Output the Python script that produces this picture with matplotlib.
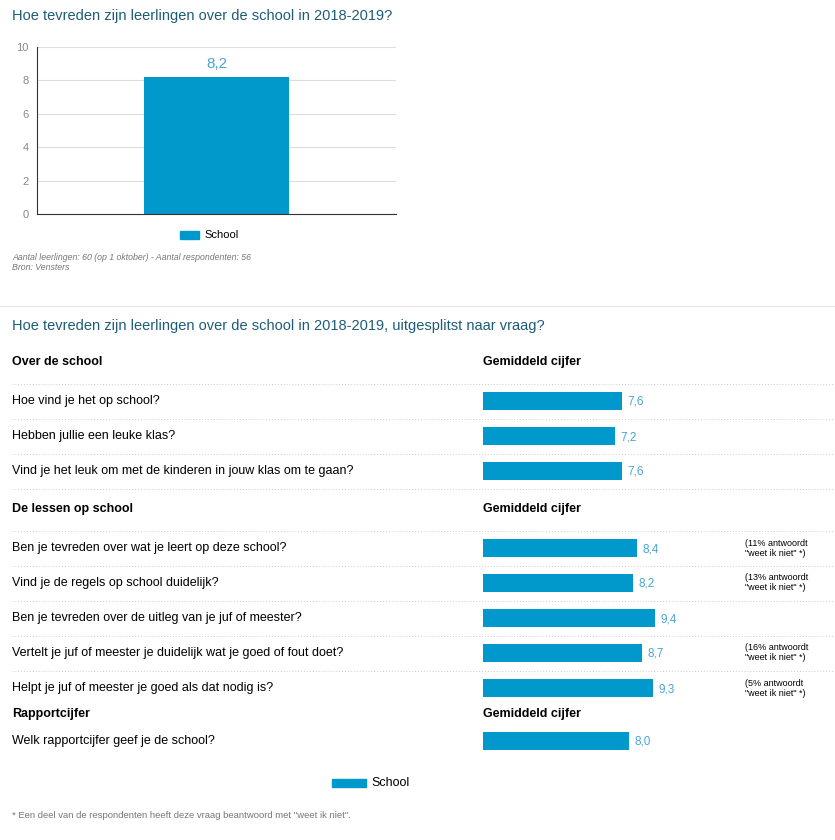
import matplotlib
matplotlib.use("Agg")
import matplotlib.pyplot as plt
from matplotlib.patches import Rectangle

W, H = 835, 840
BAR = "#0199cb"
VAL = "#4aa6d2"
TITLE = "#1d5c78"

overall_label = ["School"]
overall_value = [8.2]
y_ticks = [0, 2, 4, 6, 8, 10]

sections = ["Over de school", "De lessen op school", "Rapportcijfer"]
questions = [
    ["Hoe vind je het op school?", "Hebben jullie een leuke klas?",
     "Vind je het leuk om met de kinderen in jouw klas om te gaan?"],
    ["Ben je tevreden over wat je leert op deze school?", "Vind je de regels op school duidelijk?",
     "Ben je tevreden over de uitleg van je juf of meester?",
     "Vertelt je juf of meester je duidelijk wat je goed of fout doet?",
     "Helpt je juf of meester je goed als dat nodig is?"],
    ["Welk rapportcijfer geef je de school?"],
]
scores = [[7.6, 7.2, 7.6], [8.4, 8.2, 9.4, 8.7, 9.3], [8.0]]
notes = [[None, None, None], ["11%", "13%", None, "16%", "5%"], [None]]

fig = plt.figure(figsize=(W / 100, H / 100), dpi=100)
bg = fig.add_axes([0, 0, 1, 1])
bg.set_xlim(0, W); bg.set_ylim(H, 0); bg.axis("off")

def fx(x): return x / W
def fy(y): return 1 - y / H

# ---- top chart
bg.text(12, 16, "Hoe tevreden zijn leerlingen over de school in 2018-2019?", fontsize=10.5,
        color=TITLE, va="center", family="Liberation Sans")
ax = fig.add_axes([fx(37), fy(214), fx(396 - 37), (214 - 47) / H])
ax.bar([0], overall_value, width=0.404, color=BAR)
ax.set_xlim(-0.5, 0.5); ax.set_ylim(0, 10)
ax.set_yticks(y_ticks)
ax.set_yticklabels([str(t) for t in y_ticks], color="#888888", fontsize=8, family="Liberation Sans")
ax.tick_params(axis="y", length=0, pad=6)
ax.set_xticks([])
ax.grid(axis="y", color="#dddddd", lw=0.8); ax.set_axisbelow(True)
for s in ["top", "right"]: ax.spines[s].set_visible(False)
ax.spines["left"].set_color("#333333"); ax.spines["bottom"].set_color("#333333")
for v in overall_value:
    ax.text(0, v + 0.35, f"{v:.1f}".replace(".", ","), ha="center", va="bottom",
            color=VAL, fontsize=11, family="Liberation Sans")
bg.add_patch(Rectangle((180, 231), 19, 8, color=BAR))
bg.text(204, 235, overall_label[0], fontsize=8, va="center", family="Liberation Sans")
bg.text(12, 258, "Aantal leerlingen: 60 (op 1 oktober) - Aantal respondenten: 56", fontsize=6.3,
        color="#777777", style="italic", va="center", family="Liberation Sans")
bg.text(12, 268, "Bron: Vensters", fontsize=6.3, color="#777777", style="italic", va="center",
        family="Liberation Sans")
bg.plot([0, W], [306, 306], color="#e8e8e8", lw=1)

# ---- lower table
bg.text(12, 326, "Hoe tevreden zijn leerlingen over de school in 2018-2019, uitgesplitst naar vraag?",
        fontsize=10.5, color=TITLE, va="center", family="Liberation Sans")

header_y = [362, 509, 714]
row_y = [[401, 436, 471], [548, 583, 618, 653, 688], [741]]
bax = fig.add_axes([fx(483), fy(800), fx(666 - 483), (800 - 340) / H])
bax.set_xlim(0, 10); bax.set_ylim(800, 340); bax.axis("off")
for si, sec in enumerate(sections):
    hy = header_y[si]
    bg.text(12, hy, sec, fontsize=9, weight="bold", va="center", family="Liberation Sans")
    bg.text(483, hy, "Gemiddeld cijfer", fontsize=9, weight="bold", va="center", family="Liberation Sans")
    if si < 2:
        bg.plot([12, 833], [hy + 22, hy + 22], color="#cccccc", lw=0.7, ls=(0, (1, 2)))
    for qi, q in enumerate(questions[si]):
        y = row_y[si][qi]
        bg.text(12, y, q, fontsize=9, va="center", family="Liberation Sans")
        v = scores[si][qi]
        bax.barh([y], [v], height=18, color=BAR)
        bax.text(v + 0.3, y + 1, f"{v:.1f}".replace(".", ","), color=VAL, fontsize=8.5,
                 va="center", family="Liberation Sans")
        n = notes[si][qi]
        if n:
            bg.text(745, y - 5, f"({n} antwoordt", fontsize=6.5, va="center", family="Liberation Sans")
            bg.text(745, y + 5, "\"weet ik niet\" *)", fontsize=6.5, va="center", family="Liberation Sans")
        if si < 2 and not (si == 1 and qi == len(questions[si]) - 1):
            bg.plot([12, 833], [y + 18, y + 18], color="#cccccc", lw=0.7, ls=(0, (1, 2)))

bg.add_patch(Rectangle((332, 779), 34, 8, color=BAR))
bg.text(371, 783, "School", fontsize=9, va="center", family="Liberation Sans")
bg.text(12, 816, "* Een deel van de respondenten heeft deze vraag beantwoord met \"weet ik niet\".",
        fontsize=6.8, color="#777777", va="center", family="Liberation Sans")

fig.savefig("out.png", dpi=100)
